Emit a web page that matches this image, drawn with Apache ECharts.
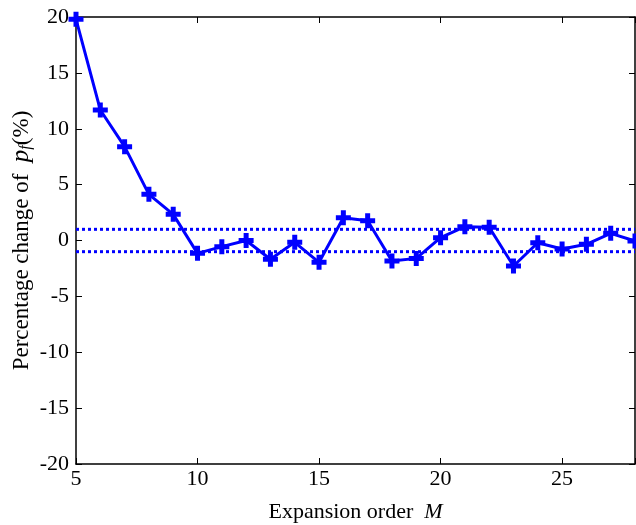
<!DOCTYPE html>
<html><head><meta charset="utf-8">
<script src="https://cdn.jsdelivr.net/npm/echarts@6/dist/echarts.min.js"></script>
<style>html,body{margin:0;padding:0;background:#fff}#c{width:636px;height:525px}</style>
</head><body><div id="c"></div>
<script>
const orders = [5,6,7,8,9,10,11,12,13,14,15,16,17,18,19,20,21,22,23,24,25,26,27,28];
const pctChange = [19.8,11.68,8.4,4.13,2.34,-1.15,-0.55,0.0,-1.68,-0.16,-1.95,2.04,1.77,-1.83,-1.6,0.25,1.24,1.18,-2.28,-0.2,-0.76,-0.34,0.64,-0.04];
const bounds = [1, -1];
const xTicks = [5,10,15,20,25];
const yTicks = [-20,-15,-10,-5,0,5,10,15,20];

const font = 'Liberation Serif';
const fs = 22;
const plus = 'path://M-1,-3L1,-3L1,-1L3,-1L3,1L1,1L1,3L-1,3L-1,1L-3,1L-3,-1L-1,-1Z';
const chart = echarts.init(document.getElementById('c'), null, {renderer:'canvas'});
const axLine = {show:true,onZero:false,lineStyle:{color:'#000',width:1.5}};
const tick = {show:true,inside:true,length:6,lineStyle:{color:'#000',width:1}};
chart.setOption({
  animation:false,
  grid:{left:76,top:17,right:1,bottom:61,outerBoundsMode:'none',containLabel:false},
  xAxis:[
    {type:'value',min:5,max:28,interval:5,position:'bottom',
      axisLine:axLine,splitLine:{show:false},axisTick:tick,
      axisLabel:{color:'#000',fontFamily:font,fontSize:fs,margin:4,showMaxLabel:true,
        formatter:v=>xTicks.includes(v)?String(v):''},
      name:'{t|Expansion order  }{i|M}',nameLocation:'middle',nameGap:37,nameMoveOverlap:false,
      nameTextStyle:{rich:{t:{fontFamily:font,fontSize:fs,color:'#000'},i:{fontFamily:font,fontSize:fs,fontStyle:'italic',color:'#000'}}}
    },
    {type:'value',min:5,max:28,interval:5,position:'top',
      axisLine:axLine,splitLine:{show:false},axisLabel:{show:false},axisTick:tick}
  ],
  yAxis:[
    {type:'value',min:yTicks[0],max:yTicks[yTicks.length-1],interval:5,position:'left',
      axisLine:axLine,splitLine:{show:false},axisTick:tick,
      axisLabel:{color:'#000',fontFamily:font,fontSize:fs,margin:7},
      name:'{t|Percentage change of  }{i|p}{s|f}{t|(%)}',nameLocation:'middle',nameGap:42,nameRotate:90,nameMoveOverlap:false,
      nameTextStyle:{rich:{
        t:{fontFamily:font,fontSize:23,color:'#000'},
        i:{fontFamily:font,fontSize:25,fontStyle:'italic',color:'#000'},
        s:{fontFamily:font,fontSize:16,fontStyle:'italic',color:'#000',verticalAlign:'bottom'}}}
    },
    {type:'value',min:yTicks[0],max:yTicks[yTicks.length-1],interval:5,position:'right',
      axisLine:axLine,splitLine:{show:false},axisTick:tick,axisLabel:{show:false}}
  ],
  series:[
    {type:'line',data:orders.map((m,i)=>[m,pctChange[i]]),
      lineStyle:{color:'#0000ff',width:3},itemStyle:{color:'#0000ff'},
      symbol:plus,symbolSize:15,showAllSymbol:true,z:3},
    ...bounds.map(b=>({type:'line',data:[[orders[0],b],[orders[orders.length-1],b]],
      symbol:'none',lineStyle:{color:'#0000ff',width:3,type:[3,3]},z:2}))
  ]
});
</script></body></html>
